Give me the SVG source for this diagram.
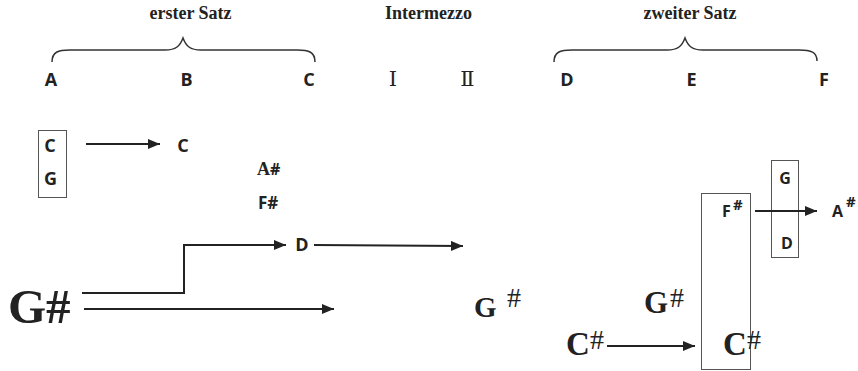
<svg xmlns="http://www.w3.org/2000/svg" width="858" height="371" viewBox="0 0 858 371">
<style>
.ttl{font-family:"Liberation Serif",serif;font-weight:bold;font-size:18px;fill:#222;text-anchor:middle}
.ss{font-family:"Open Sans","Liberation Sans",sans-serif;font-weight:bold;fill:#222}
.sf{font-family:"Liberation Serif",serif;font-weight:bold;fill:#222}
.sh{font-family:"Liberation Serif",serif;fill:#222}
.rn{font-family:"DejaVu Serif","Noto Sans CJK SC",serif;fill:#222;text-anchor:middle}
.brace{fill:none;stroke:#333;stroke-width:1.5}
.box{fill:none;stroke:#555;stroke-width:1}
.conn{fill:none;stroke:#222;stroke-width:2}
</style>
<defs>
<marker id="ah" markerUnits="userSpaceOnUse" markerWidth="12" markerHeight="10" refX="12" refY="5" orient="auto">
<path d="M0,0 L12,5 L0,10 z" fill="#222"/>
</marker>
</defs>
<rect width="858" height="371" fill="#fff"/>

<g id="titles">
<text class="ttl" x="190.5" y="19">erster Satz</text>
<text class="ttl" x="428.5" y="19">Intermezzo</text>
<text class="ttl" x="690" y="19">zweiter Satz</text>
</g>
<g id="braces">
<path class="brace" d="M52,62 C52,52 58,50 70,50 L165,50 C176,50 180,46 183,38 C186,46 190,50 201,50 L297,50 C309,50 315,52 315,62"/>
<path class="brace" d="M554,62 C554,52 560,50 572,50 L667,50 C678,50 682,46 685,38 C688,46 692,50 703,50 L799,50 C811,50 817,52 817,61"/>
</g>
<g id="sections" class="ss" font-size="18" text-anchor="middle">
<text x="51" y="86">A</text>
<text x="186.5" y="86">B</text>
<text x="309" y="86">C</text>
<text x="567" y="86">D</text>
<text x="691.5" y="86">E</text>
<text x="824" y="86">F</text>
</g>
<g id="intermezzo">
<text class="rn" x="393" y="86" font-size="21">Ⅰ</text>
<text class="rn" x="467.5" y="86" font-size="21">Ⅱ</text>
</g>

<g id="box-CG">
<rect class="box" x="38.5" y="130.5" width="28" height="67"/>
<text class="ss" x="50" y="152" font-size="18" text-anchor="middle">C</text>
<text class="ss" x="50.5" y="184.5" font-size="18" text-anchor="middle">G</text>
</g>
<g id="node-C"><text class="ss" x="183" y="152" font-size="18" text-anchor="middle">C</text></g>
<g id="node-Asharp"><text x="257" y="175"><tspan class="sf" font-size="18">A</tspan><tspan class="ss" font-size="16">#</tspan></text></g>
<g id="node-Fsharp"><text class="ss" x="258" y="209" font-size="17">F#</text></g>
<g id="node-D"><text class="ss" x="302" y="251" font-size="18" text-anchor="middle">D</text></g>
<g id="node-Gsharp-big"><text class="sf" x="8" y="323" font-size="49">G#</text></g>
<g id="node-Gsharp-mid"><text class="sf" x="474" y="317" font-size="29">G</text><text class="sh" x="507" y="307" font-size="28">#</text></g>

<g id="box-Fsharp-Csharp">
<rect class="box" x="701.5" y="193.5" width="49" height="176"/>
<text class="ss" x="722" y="216.5" font-size="16">F</text>
<text class="ss" x="733" y="210" font-size="15">#</text>
<text class="sf" x="723" y="355" font-size="33">C</text>
<text class="sh" x="747" y="349" font-size="28">#</text>
</g>
<g id="box-GD">
<rect class="box" x="771.5" y="160.5" width="27" height="97"/>
<text class="ss" x="785" y="183.5" font-size="16" text-anchor="middle">G</text>
<text class="ss" x="787" y="248.5" font-size="16" text-anchor="middle">D</text>
</g>
<g id="node-Asharp-right"><text class="ss" x="832" y="216.5" font-size="16">A</text><text class="ss" x="846" y="207" font-size="15">#</text></g>
<g id="node-Gsharp-right"><text class="sf" x="644" y="313" font-size="31">G</text><text class="sh" x="670" y="307" font-size="28">#</text></g>
<g id="node-Csharp-left"><text class="sf" x="566" y="355" font-size="33">C</text><text class="sh" x="590" y="349" font-size="28">#</text></g>

<g id="connectors">
<line class="conn" x1="86" y1="144" x2="160" y2="144" marker-end="url(#ah)"/>
<path class="conn" d="M82,293 L184,293 L184,245 L286,245" marker-end="url(#ah)"/>
<line class="conn" x1="314" y1="245" x2="463" y2="246" marker-end="url(#ah)"/>
<line class="conn" x1="84" y1="309" x2="334" y2="309" marker-end="url(#ah)"/>
<line class="conn" x1="755" y1="211" x2="817" y2="211" marker-end="url(#ah)"/>
<line class="conn" x1="607" y1="346" x2="695" y2="346" marker-end="url(#ah)"/>
</g>
</svg>
